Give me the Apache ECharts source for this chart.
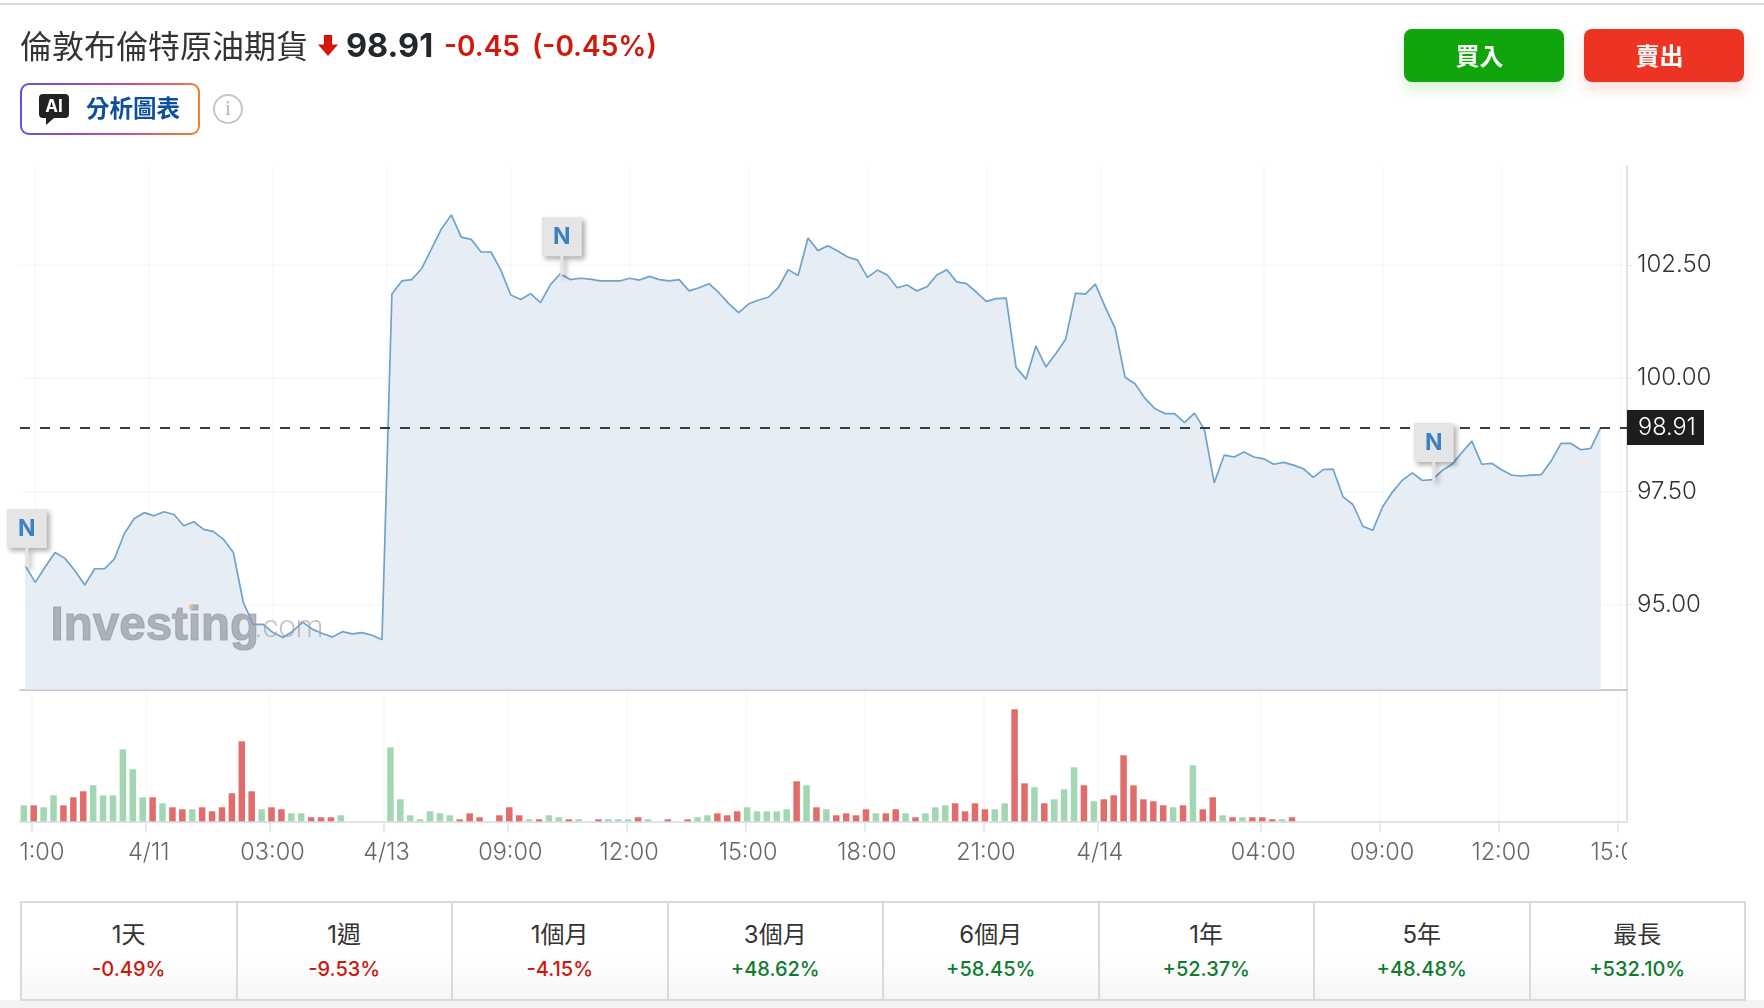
<!DOCTYPE html>
<html lang="zh-Hant">
<head>
<meta charset="utf-8">
<title>倫敦布倫特原油期貨</title>
<script src="https://cdn.jsdelivr.net/npm/echarts@6/dist/echarts.min.js"></script>
<style>
  html, body { margin: 0; padding: 0; width: 1764px; height: 1008px; background: #fff; overflow: hidden;
    font-family: Inter, "Noto Sans CJK TC", sans-serif; }
  #chart { position: absolute; left: 0; top: 0; width: 1764px; height: 1008px; }
  .abs { position: absolute; white-space: nowrap; }
  #topRule { left: 0; top: 3px; width: 1764px; height: 2px; background: #dcdcdc; }
  #title { left: 20px; top: 23px; font: 400 32px/42px "Noto Sans CJK TC", sans-serif; color: #333; }
  #arrow { left: 318px; top: 35px; width: 20px; height: 21px; }
  #last { left: 346px; top: 25px; font: 700 32.5px/42px Inter, sans-serif; color: #24282c; }
  #change { left: 444px; top: 25px; font: 600 28px/42px Inter, sans-serif; color: #d3170b; }
  #change span { margin-left: 12px; }
  #aiBadge { left: 20px; top: 83px; width: 180px; height: 52px; border-radius: 9px; box-sizing: border-box; padding: 2px;
    background: linear-gradient(100deg, #5a55e0 0%, #8b4fc8 30%, #d34f86 62%, #f08428 100%); }
  #aiInner { width: 100%; height: 100%; background: #fff; border-radius: 7px; position: relative; }
  #aiIcon { position: absolute; left: 17px; top: 9px; width: 30px; height: 24px; background: #222; border-radius: 4px;
    color: #fff; font: 700 17px/24px Inter, sans-serif; text-align: center; }
  #aiTail { position: absolute; left: 24px; top: 33px; width: 0; height: 0; border-top: 7px solid #222; border-right: 8px solid transparent; }
  #aiText { position: absolute; left: 64px; top: 4px; font: 700 23.5px/36px "Noto Sans CJK TC", sans-serif; color: #0e4f9b; }
  #info { left: 213px; top: 94px; width: 30px; height: 30px; box-sizing: border-box; border: 2.5px solid #c6c6c6; border-radius: 50%;
    color: #b4b4b4; font: 400 21px/25px "Liberation Serif", serif; text-align: center; }
  .btn { top: 29px; width: 160px; height: 53px; border-radius: 8px; color: #fff; text-align: center; box-sizing: border-box; padding-right: 9px;
    font: 700 24px/51px "Noto Sans CJK TC", sans-serif; }
  #buy { left: 1404px; background: #10a50a; box-shadow: 0 8px 14px rgba(16,165,10,.16); }
  #sell { left: 1584px; background: #ed3423; box-shadow: 0 8px 14px rgba(237,52,35,.16); }
  #perfBand { left: 0; top: 1000px; width: 1764px; height: 8px; background: #f3f3f3; }
  #perf { left: 20px; top: 901px; width: 1726px; height: 100px; box-sizing: border-box; border: 2px solid #dadada; display: flex;
    background: linear-gradient(#fff 55%, #f6f6f6); }
  .cell { flex: 1 1 0; text-align: center; border-right: 2px solid #dadada; position: relative; }
  .cell:last-child { border-right: 0; }
  .cell b { position: absolute; left: 0; right: 0; top: 15px; font: 400 24px/34px Inter, "Noto Sans CJK TC", sans-serif; color: #333; }
  .cell i { position: absolute; left: 0; right: 0; top: 52px; font: 500 20px/28px Inter, sans-serif; font-style: normal; }
  .down { color: #c9190e; }
  .up { color: #0f7b30; }
</style>
</head>
<body>
<div id="chart"></div>
<div class="abs" id="topRule"></div>
<div class="abs" id="title"></div>
<svg class="abs" id="arrow" viewBox="0 0 19 20"><path d="M5.5 0h8v9h5.5l-9.500 11L0 9h5.500z" fill="#d3170b"/></svg>
<div class="abs" id="last"></div>
<div class="abs" id="change"></div>
<div class="abs" id="aiBadge"><div id="aiInner"><div id="aiIcon">AI</div><div id="aiTail"></div><div id="aiText">分析圖表</div></div></div>
<div class="abs" id="info">i</div>
<div class="abs btn" id="buy">買入</div>
<div class="abs btn" id="sell">賣出</div>
<div class="abs" id="perfBand"></div>
<div class="abs" id="perf"></div>
<script>
// Instrument header
const instrumentName = '倫敦布倫特原油期貨';
const lastPrice = 98.91;
const priceChange = '-0.45';
const priceChangePct = '(-0.45%)';

// Intraday closes, one per sampled bar
const prices = [
  95.86, 95.49, 95.83, 96.15, 96.02, 95.75, 95.43, 95.79, 95.79, 96.01,
  96.57, 96.90, 97.03, 96.96, 97.05, 96.99, 96.74, 96.83, 96.66, 96.61,
  96.44, 96.15, 95.05, 94.56, 94.56, 94.38, 94.27, 94.41, 94.61, 94.45,
  94.36, 94.28, 94.40, 94.35, 94.38, 94.32, 94.22, 101.86, 102.15, 102.18,
  102.42, 102.86, 103.30, 103.61, 103.12, 103.07, 102.79, 102.79, 102.39, 101.84,
  101.74, 101.87, 101.67, 102.07, 102.31, 102.18, 102.21, 102.19, 102.15, 102.15,
  102.15, 102.21, 102.17, 102.25, 102.18, 102.15, 102.18, 101.93, 102.00, 102.09,
  101.89, 101.65, 101.45, 101.64, 101.73, 101.79, 102.00, 102.40, 102.27, 103.10,
  102.82, 102.93, 102.81, 102.68, 102.61, 102.23, 102.39, 102.28, 102.00, 102.06,
  101.93, 102.02, 102.28, 102.40, 102.13, 102.09, 101.90, 101.70, 101.76, 101.77,
  100.24, 99.98, 100.71, 100.25, 100.54, 100.86, 101.88, 101.86, 102.08, 101.57,
  101.10, 100.02, 99.88, 99.56, 99.33, 99.22, 99.22, 99.02, 99.23, 98.87,
  97.69, 98.30, 98.26, 98.37, 98.26, 98.22, 98.10, 98.14, 98.08, 98.00,
  97.81, 97.98, 97.99, 97.38, 97.21, 96.73, 96.64, 97.16, 97.49, 97.75,
  97.91, 97.74, 97.76, 97.96, 98.10, 98.36, 98.61, 98.10, 98.12, 97.98,
  97.86, 97.84, 97.86, 97.87, 98.17, 98.56, 98.56, 98.42, 98.45, 98.91
];

// Traded volume per bar (relative units); the feed stops before the last bars
const volumes = [
  8, 8, 7, 13, 8, 12, 15, 18, 13, 13, 36, 26, 12, 12, 9, 7, 6, 6, 7, 5,
  7, 14, 40, 15, 6, 7, 6, 4, 4, 2, 2, 2, 3, 0, 0, 0, 0, 37, 11, 3,
  1, 5, 4, 3, 1, 4, 2, 0, 3, 7, 3, 1, 1, 3, 2, 1, 1, 0, 1, 1,
  1, 1, 2, 1, 0, 1, 0, 1, 2, 3, 4, 3, 5, 7, 5, 5, 5, 6, 20, 18,
  7, 6, 3, 4, 3, 6, 4, 4, 6, 4, 2, 4, 7, 8, 9, 5, 9, 6, 6, 9,
  56, 19, 17, 9, 11, 16, 27, 18, 10, 11, 13, 33, 18, 11, 10, 8, 7, 8, 28, 6,
  12, 3, 2, 2, 2, 2, 1, 1, 2
];

// u = up bar, d = down bar, - = nothing traded
const volumeTone = (
  'u d u u d d d u u u u u u d u d d u d d ' +
  'd d d d u d d u u d d d u - - - - u u u ' +
  'u u u u d d d - d d d u d u u d u - d u ' +
  'u u d u - d - d u u d d d u u u u u d u ' +
  'd u d d d d u d d u d u u u d d d d u u ' +
  'd d u d u u u d u d d d d d d d u d u d ' +
  'd u d u d d d u d'
).split(' ');

// Time axis: label text and the bar position each label sits at
const timeLabels = ['21:00', '4/11', '03:00', '4/13', '09:00', '12:00', '15:00', '18:00', '21:00', '4/14', '04:00', '09:00', '12:00', '15:00'];
const timePositions = [1, 12.5, 25, 36.5, 49, 61, 73, 85, 97, 108.5, 125, 137, 149, 161];
const dateLabels = ['4/11', '4/13', '4/14'];

// Price axis
const priceTicks = [95, 97.5, 100, 102.5];

// Bars carrying a news flag
const newsBars = [0, 54, 142];

// Period performance table
const periods = ['1天', '1週', '1個月', '3個月', '6個月', '1年', '5年', '最長'];
const periodChanges = ['-0.49%', '-9.53%', '-4.15%', '+48.62%', '+58.45%', '+52.37%', '+48.48%', '+532.10%'];

document.getElementById('title').textContent = instrumentName;
document.getElementById('last').textContent = lastPrice.toFixed(2);
document.getElementById('change').innerHTML = priceChange + '<span>' + priceChangePct + '</span>';
document.getElementById('perf').innerHTML = periods.map((p, i) =>
  '<div class="cell"><b>' + p + '</b><i class="' + (periodChanges[i][0] === '-' ? 'down' : 'up') + '">' + periodChanges[i] + '</i></div>'
).join('');

const labelFont = 'Inter, Roboto, sans-serif';
const gridTint = 'rgba(60,80,110,0.04)';
const volumeShift = 0.15;
const flagPath = 'path://M0,0H40V39H21.5V58H18.500V39H0Z';

const xRange = [-0.535, 161.66];
const labelFor = v => {
  const k = timePositions.findIndex(t => Math.abs(t - v) < 0.26);
  return k < 0 ? '' : timeLabels[k];
};

const chart = echarts.init(document.getElementById('chart'), null, { renderer: 'canvas' });
chart.setOption({
  animation: false,
  backgroundColor: 'transparent',
  grid: [
    { left: 20, width: 1607, top: 166, height: 523.6 },
    { left: 20, width: 1607, top: 690.6, height: 130.7 }
  ],
  xAxis: [
    {
      type: 'value', gridIndex: 0, min: xRange[0], max: xRange[1],
      axisLine: { show: true, onZero: false, lineStyle: { color: '#c6ccd2', width: 2 } },
      axisTick: { show: false, customValues: timePositions },
      axisLabel: { show: false, customValues: timePositions },
      splitLine: { show: true, lineStyle: { color: gridTint, width: 1.5 } }
    },
    {
      type: 'value', gridIndex: 1, min: xRange[0] + volumeShift, max: xRange[1] + volumeShift,
      axisLine: { show: true, onZero: false, lineStyle: { color: '#e0e3e6', width: 2 } },
      axisTick: { show: true, length: 11, lineStyle: { color: '#e0e3e6', width: 1.5 }, customValues: timePositions.map(t => t - volumeShift) },
      axisLabel: {
        show: true, margin: 20, hideOverlap: false, showMinLabel: true, showMaxLabel: true,
        customValues: timePositions.map(t => t - volumeShift),
        fontFamily: labelFont, fontSize: 23.5, fontWeight: 300, padding: [0, 0, 0, 5],
        formatter: v => labelFor(v + volumeShift),
        color: v => (dateLabels.includes(labelFor(v + volumeShift)) ? '#333' : '#666')
      },
      splitLine: { show: true, lineStyle: { color: gridTint, width: 1.5 } }
    }
  ],
  yAxis: [
    {
      type: 'value', gridIndex: 0, position: 'right', min: 93.12, max: 104.69, scale: true,
      axisLine: { show: true, onZero: false, lineStyle: { color: '#e0e0e0', width: 2 } },
      axisTick: { show: true, length: 5, lineStyle: { color: '#e6e6e6' }, customValues: priceTicks },
      axisLabel: {
        show: true, margin: 10, customValues: priceTicks, showMinLabel: true, showMaxLabel: true,
        fontFamily: labelFont, fontSize: 24, fontWeight: 300, color: '#333', padding: [7, 0, 0, 0],
        formatter: v => v.toFixed(2)
      },
      splitLine: { show: true, lineStyle: { color: gridTint, width: 1.5 } }
    },
    {
      type: 'value', gridIndex: 1, position: 'right', min: 0, max: 65.35,
      axisLine: { show: true, onZero: false, lineStyle: { color: '#e0e0e0', width: 2 } },
      axisTick: { show: false }, axisLabel: { show: false }, splitLine: { show: false }
    }
  ],
  series: [
    {
      name: 'price', type: 'line', xAxisIndex: 0, yAxisIndex: 0,
      data: prices.map((p, i) => [i, p]),
      symbol: 'none', lineStyle: { color: '#6fa3cb', width: 1.7 },
      areaStyle: { color: '#e6edf5', origin: 'start', opacity: 1 },
      markLine: {
        silent: true, symbol: 'none', z: 6, precision: 2,
        lineStyle: { color: '#333d47', width: 1.8, type: [10, 10] },
        label: {
          show: true, position: 'end', distance: 0, formatter: () => lastPrice.toFixed(2),
          backgroundColor: '#1d1d1d', color: '#fff', fontFamily: labelFont, fontSize: 23.5, fontWeight: 300,
          padding: [9, 7, 2, 11], width: 59, height: 24, lineHeight: 24, align: 'left'
        },
        data: [{ yAxis: lastPrice }]
      },
      markPoint: {
        silent: true, z: 8,
        symbol: flagPath, symbolSize: [40, 58], symbolOffset: [1.5, -27.5], symbolKeepAspect: false,
        itemStyle: { color: '#e5e5e5', shadowColor: 'rgba(0,0,0,0.32)', shadowBlur: 5, shadowOffsetX: 3, shadowOffsetY: 3 },
        label: {
          show: true, formatter: 'N', color: '#3b82c4', fontFamily: 'Inter, sans-serif', fontWeight: 700, fontSize: 23,
          position: 'inside', offset: [0, -9]
        },
        data: newsBars.map(i => ({ coord: [i, prices[i]] }))
      }
    },
    {
      name: 'volume', type: 'bar', xAxisIndex: 1, yAxisIndex: 1, barWidth: 6.5,
      data: volumes.map((v, i) => [i, v, volumeTone[i]]).filter(d => d[1] > 0),
      itemStyle: { color: p => (p.value[2] === 'u' ? '#a3d6b3' : '#e06c6c') }
    }
  ],
  graphic: [
    // Masks that trim the outermost time labels at the plot edges
    { type: 'rect', z: 100, shape: { x: 0, y: 835, width: 20, height: 36 }, style: { fill: '#fff' } },
    { type: 'rect', z: 100, shape: { x: 1627, y: 835, width: 40, height: 36 }, style: { fill: '#fff' } },
    // Broker wordmark
    { type: 'text', z: 90, left: 50, top: 602, style: { text: 'Investing', fill: 'rgba(150,154,164,0.72)', stroke: 'rgba(150,154,164,0.72)', lineWidth: 1.2, font: '700 47.5px "Liberation Sans", sans-serif' } },
    { type: 'text', z: 90, left: 255, top: 614, style: { text: '.com', fill: 'rgba(150,154,164,0.6)', font: '300 31px Roboto, sans-serif' } },
    { type: 'circle', z: 91, shape: { cx: 191, cy: 607, r: 2.5 }, style: { fill: 'rgba(232,190,130,0.8)' } }
  ]
});
</script>
</body>
</html>
